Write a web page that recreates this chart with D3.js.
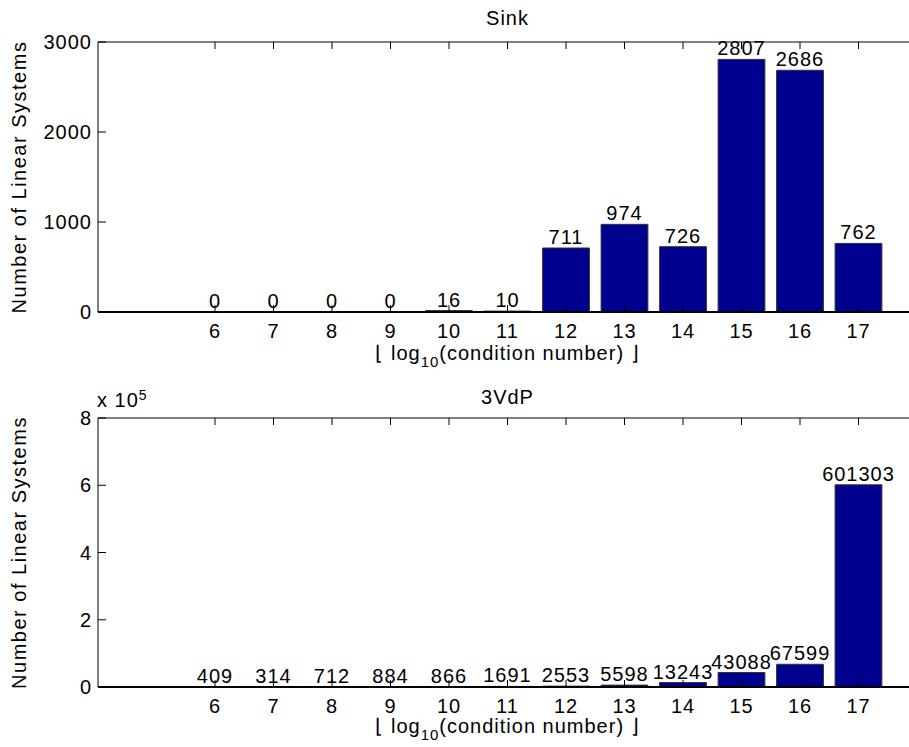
<!DOCTYPE html>
<html>
<head>
<meta charset="utf-8">
<script src="https://cdn.jsdelivr.net/npm/d3@7"></script>
<style>
  body { margin: 0; background: #fff; }
  text { font-family: "Liberation Sans", Arial, sans-serif; fill: #000; font-size: 20px; letter-spacing: 1px; }
</style>
</head>
<body>
<svg id="viz"></svg>
<script>
var width = 909;
var height = 747;

// bins of floor(log10(condition number))
var bins = [6, 7, 8, 9, 10, 11, 12, 13, 14, 15, 16, 17];
var sinkCounts = [0, 0, 0, 0, 16, 10, 711, 974, 726, 2807, 2686, 762];
var vdpCounts = [409, 314, 712, 884, 866, 1691, 2553, 5598, 13243, 43088, 67599, 601303];
var sinkTicks = [0, 1000, 2000, 3000];
var vdpTicks = [0, 200000, 400000, 600000, 800000];

var svg = d3.select("#viz").attr("width", width).attr("height", height);

// x scale shared by both panels, right edge runs past the window
var x = d3.scaleLinear().domain([4, 18]).range([98, 917]);
var barW = (x(1) - x(0)) * 0.8;

function drawPanel(opts) {
    var y = d3.scaleLinear().domain(opts.yDomain).range([opts.bottom, opts.top]);
    var g = svg.append("g");

    // bars (paths so zero-height bars still leave their edge)
    g.selectAll("path.bar")
        .data(opts.values)
        .enter()
        .append("path")
        .attr("class", "bar")
        .attr("d", function(d, i) {
            var x0 = x(bins[i]) - barW / 2, x1 = x(bins[i]) + barW / 2;
            return "M" + x0 + "," + y(0) + "V" + y(d) + "H" + x1 + "V" + y(0) + "Z";
        })
        .attr("fill", "#00008f")
        .attr("stroke", "#333")
        .attr("stroke-width", 1);

    // value labels
    g.selectAll("text.val")
        .data(opts.values)
        .enter()
        .append("text")
        .attr("class", "val")
        .attr("x", function(d, i) { return x(bins[i]); })
        .attr("y", function(d) { return y(d) - 4; })
        .attr("text-anchor", "middle")
        .text(function(d) { return d; });

    // axis lines: left, top, bottom (box runs off to the right)
    g.append("line").attr("x1", x(4)).attr("x2", x(4))
        .attr("y1", opts.top).attr("y2", opts.bottom)
        .attr("stroke", "#000").attr("stroke-width", 1);
    g.append("line").attr("x1", x(4)).attr("x2", width)
        .attr("y1", opts.top).attr("y2", opts.top)
        .attr("stroke", "#000").attr("stroke-width", 1);
    g.append("line").attr("x1", x(4)).attr("x2", width)
        .attr("y1", opts.bottom).attr("y2", opts.bottom)
        .attr("stroke", "#000").attr("stroke-width", 2);

    // x ticks, inward on bottom and top
    bins.forEach(function(b) {
        g.append("line").attr("x1", x(b)).attr("x2", x(b))
            .attr("y1", opts.bottom).attr("y2", opts.bottom - 7)
            .attr("stroke", "#000").attr("stroke-width", 1);
        g.append("line").attr("x1", x(b)).attr("x2", x(b))
            .attr("y1", opts.top).attr("y2", opts.top + 7)
            .attr("stroke", "#000").attr("stroke-width", 1);
        g.append("text")
            .attr("x", x(b)).attr("y", opts.bottom + 26)
            .attr("text-anchor", "middle")
            .text(b);
    });

    // y ticks
    opts.yTicks.forEach(function(t) {
        g.append("line").attr("x1", x(4)).attr("x2", x(4) + 8)
            .attr("y1", y(t)).attr("y2", y(t))
            .attr("stroke", "#000").attr("stroke-width", 1);
        g.append("text")
            .attr("x", 92).attr("y", y(t) + 7)
            .attr("text-anchor", "end")
            .text(opts.tickFormat(t));
    });

    // title
    g.append("text")
        .attr("x", (x(4) + x(18)) / 2).attr("y", opts.titleY)
        .attr("text-anchor", "middle")
        .text(opts.title);

    // x label: floor(log10(condition number))
    var xl = g.append("text")
        .attr("x", (x(4) + x(18)) / 2).attr("y", opts.xlabelY)
        .attr("text-anchor", "middle");
    xl.append("tspan").text("\u230A log");
    xl.append("tspan").attr("dy", 7).style("font-size", "15px").text("10");
    xl.append("tspan").attr("dy", -7).text("(condition number) \u230B");

    // y label
    g.append("text")
        .attr("transform", "translate(26," + (opts.top + opts.bottom) / 2 + ") rotate(-90)")
        .attr("text-anchor", "middle")
        .style("letter-spacing", "1.5px")
        .text("Number of Linear Systems");

    return g;
}

drawPanel({
    values: sinkCounts, yDomain: [0, 3000], yTicks: sinkTicks,
    top: 42, bottom: 312, title: "Sink", titleY: 25, xlabelY: 360,
    tickFormat: function(t) { return t; }
});

var lower = drawPanel({
    values: vdpCounts, yDomain: [0, 800000], yTicks: vdpTicks,
    top: 418, bottom: 687, title: "3VdP", titleY: 404, xlabelY: 733,
    tickFormat: function(t) { return t / 100000; }
});

// exponent label for the lower panel
var ex = lower.append("text").attr("x", 97).attr("y", 407);
ex.append("tspan").text("x 10");
ex.append("tspan").attr("dy", -7).style("font-size", "14px").text("5");
</script>
</body>
</html>
